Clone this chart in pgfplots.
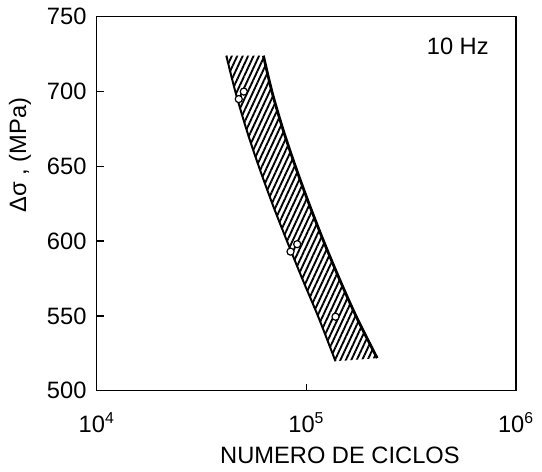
\documentclass[border=0pt]{standalone}
\usepackage{fontspec}
\setmainfont{Liberation Sans}
\usepackage{pgfplots}
\pgfplotsset{compat=1.18}
\usetikzlibrary{patterns.meta}
\begin{document}
\fontsize{12}{14}\selectfont
\begin{tikzpicture}
\begin{axis}[
 scale only axis, width=212.5pt, height=189.5pt,
 xmode=log, xmin=1e4, xmax=1e6, ymin=500, ymax=750,
 xtick={1e4,1e5,1e6},
 xticklabels={10\textsuperscript{4},10\textsuperscript{5},10\textsuperscript{6}},
 xminorticks=false,
 ytick={500,550,600,650,700,750},
 tick pos=left, tick align=inside,
 major tick length=3.5pt,
 axis line style={line width=0.7pt},
 every tick/.append style={black, line width=0.7pt},
 /pgf/number format/assume math mode=true,
 yticklabel style={xshift=-1pt},
 xticklabel style={yshift=-7pt},
 xlabel={NUMERO DE CICLOS},
 ylabel={Δσ , (MPa)},
 xlabel style={at={(rel axis cs:0.58,-0.172)}, anchor=center},
 ylabel style={at={(rel axis cs:-0.183,0.63)}, anchor=center},
 clip=false,
]
\addplot[draw=none, pattern={Lines[angle=65,distance=2.5pt,line width=0.95pt]}] coordinates {
 (41500,724) (45970,699.3) (52070,673.6) (59430,649.6) (69340,623.8) (81750,598.3) (96740,573.1) (114200,549.1) (137700,519.7)
 (217600,521.8) (173600,549.1) (145400,573.1) (122200,598.3) (103700,623.8) (88830,649.6) (77800,673.6) (68710,699.3) (62370,724)
};
\addplot[only marks, mark=*, mark size=1.8pt, mark options={fill=white, draw=black, line width=0.6pt}] coordinates {(47600,695) (84000,593)};
\addplot[only marks, mark=*, mark size=1.8pt, mark options={fill=white, draw=black, line width=0.6pt}] coordinates {(50300,700) (90400,598) (137700,549.5)};
\addplot[smooth, line width=1pt] coordinates {
 (41500,724) (45970,699.3) (52070,673.6) (59430,649.6) (69340,623.8) (81750,598.3) (96740,573.1) (114200,549.1) (137700,519.7)
};
\addplot[smooth, line width=1.4pt] coordinates {
 (62370,724) (68710,699.3) (77800,673.6) (88830,649.6) (103700,623.8) (122200,598.3) (145400,573.1) (173600,549.1) (217600,521.8)
};
\node at (rel axis cs:0.861,0.92) {10 Hz};
\path (rel axis cs:-0.2306,-0.1979) rectangle (rel axis cs:1.0447,1.0449);
\end{axis}
\end{tikzpicture}
\end{document}
